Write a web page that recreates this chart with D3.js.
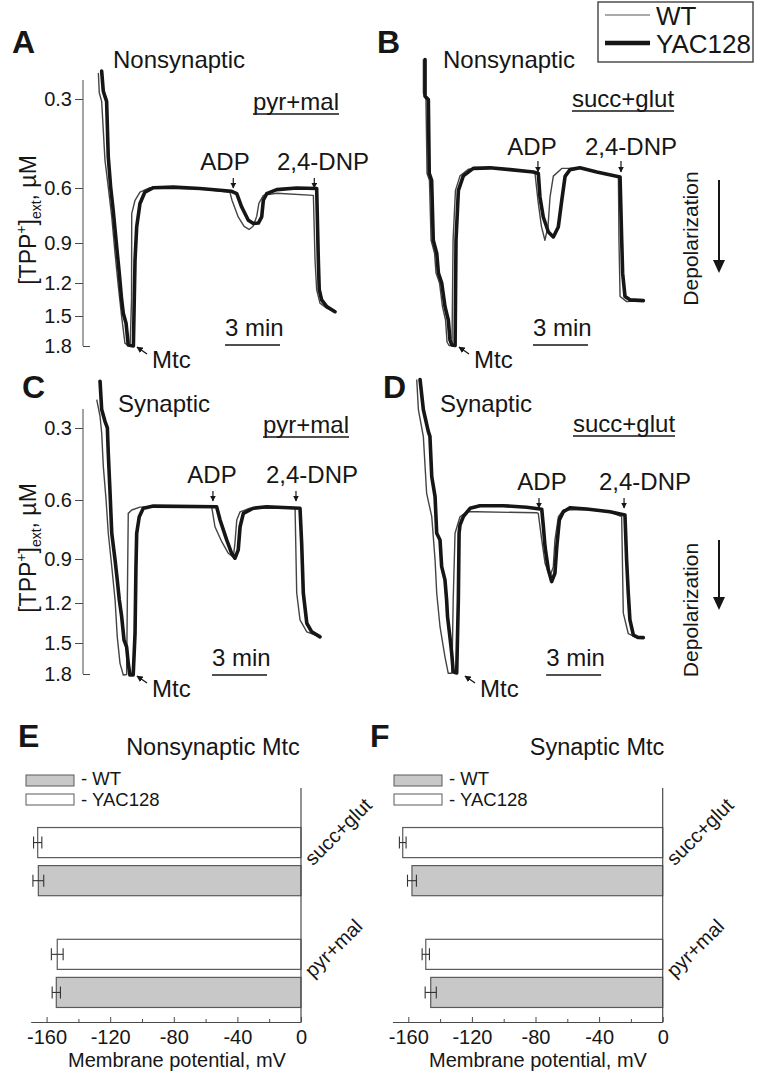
<!DOCTYPE html>
<html>
<head>
<meta charset="utf-8">
<script src="https://cdn.jsdelivr.net/npm/d3@7"></script>
<style>
  body { margin: 0; background: #fff; }
  svg { display: block; font-family: "Liberation Sans", Arial, Helvetica, sans-serif; }
</style>
</head>
<body>
<svg id="fig" width="764" height="1074"></svg>
<script>
// ---- data: TPP+ traces, [time (min), [TPP+]ext (uM)] ----
const tppTicks = [0.3, 0.6, 0.9, 1.2, 1.5, 1.8];

const traceA_yac = [[0.20,0.206],[0.29,0.274],[0.38,0.291],[0.47,0.308],[0.56,0.495],[0.69,0.597],[0.83,0.722],[1.02,0.930],[1.16,1.126],[1.29,1.353],[1.38,1.475],[1.53,1.573],[1.65,1.79],[1.93,1.80],[2.02,1.028],[2.11,0.813],[2.29,0.685],[2.56,0.622],[3.02,0.599],[4.11,0.597],[5.56,0.603],[7.29,0.618],[7.57,0.631],[7.84,0.704],[8.20,0.776],[8.48,0.794],[8.75,0.791],[8.93,0.758],[9.02,0.667],[9.20,0.631],[9.75,0.609],[10.84,0.600],[11.93,0.603],[12.02,1.028],[12.07,1.261],[12.20,1.353],[12.48,1.415],[12.93,1.461]];
const traceA_wt = [[0.02,0.212],[0.07,0.279],[0.20,0.308],[0.38,0.506],[0.56,0.597],[0.75,0.758],[0.93,0.978],[1.11,1.231],[1.29,1.507],[1.47,1.773],[1.75,1.80],[1.83,1.353],[1.84,0.740],[2.02,0.667],[2.29,0.622],[2.84,0.599],[5.56,0.604],[7.20,0.624],[7.31,0.667],[7.65,0.758],[7.97,0.809],[8.24,0.826],[8.46,0.809],[8.66,0.754],[8.78,0.683],[9.02,0.640],[9.75,0.629],[11.75,0.640],[11.84,1.028],[11.93,1.261],[12.11,1.383],[12.48,1.429],[12.93,1.461]];

const traceB_yac = [[0.22,0.167],[0.22,0.291],[0.40,0.302],[0.45,0.551],[0.58,0.574],[0.67,0.885],[0.86,0.978],[0.95,1.126],[1.13,1.20],[1.31,1.415],[1.49,1.54],[1.58,1.74],[1.68,1.79],[1.86,1.795],[1.91,0.885],[2.04,0.613],[2.31,0.559],[2.85,0.534],[3.76,0.532],[4.86,0.538],[6.13,0.546],[6.40,0.551],[6.49,0.649],[6.67,0.758],[6.95,0.840],[7.22,0.867],[7.49,0.813],[7.68,0.667],[7.86,0.561],[8.13,0.538],[8.67,0.532],[9.59,0.546],[10.86,0.563],[10.95,0.885],[11.00,1.126],[11.13,1.323],[11.40,1.353],[12.13,1.36]];
const traceB_wt = [[0.13,0.167],[0.13,0.280],[0.27,0.302],[0.33,0.551],[0.46,0.574],[0.55,0.885],[0.74,0.978],[0.82,1.126],[1.01,1.20],[1.17,1.415],[1.34,1.54],[1.42,1.76],[1.53,1.795],[1.69,1.795],[1.75,0.885],[1.88,0.613],[2.13,0.559],[2.58,0.537],[3.76,0.532],[6.11,0.546],[6.22,0.551],[6.38,0.667],[6.57,0.809],[6.76,0.885],[6.93,0.809],[7.04,0.649],[7.22,0.560],[7.68,0.534],[8.67,0.534],[9.59,0.546],[10.77,0.563],[10.80,0.885],[10.86,1.323],[11.22,1.369],[12.13,1.36]];

const traceC_yac = [[0.22,0.105],[0.31,0.223],[0.49,0.272],[0.62,0.299],[0.67,0.405],[0.76,0.558],[0.86,0.769],[1.04,0.907],[1.16,1.042],[1.27,1.178],[1.40,1.302],[1.53,1.479],[1.67,1.538],[1.76,1.697],[1.85,1.81],[2.03,1.81],[2.13,1.428],[2.18,0.952],[2.22,0.769],[2.36,0.685],[2.58,0.642],[3.13,0.631],[6.58,0.634],[6.77,0.702],[7.13,0.803],[7.40,0.871],[7.58,0.896],[7.76,0.854],[7.86,0.736],[8.04,0.668],[8.58,0.642],[9.31,0.634],[11.13,0.642],[11.22,0.820],[11.31,1.132],[11.50,1.352],[11.77,1.416],[12.22,1.454]];
const traceC_wt = [[0.04,0.182],[0.22,0.251],[0.31,0.321],[0.40,0.461],[0.55,0.60],[0.67,0.769],[0.86,0.952],[1.04,1.178],[1.16,1.454],[1.31,1.697],[1.49,1.81],[1.67,1.805],[1.71,1.178],[1.76,0.668],[1.95,0.651],[2.40,0.636],[6.31,0.634],[6.49,0.736],[6.86,0.812],[7.22,0.871],[7.49,0.891],[7.58,0.820],[7.68,0.702],[7.86,0.660],[8.40,0.642],[10.86,0.642],[10.95,1.132],[11.13,1.327],[11.50,1.416],[12.22,1.454]];

const traceD_yac = [[0.22,0.098],[0.40,0.223],[0.67,0.314],[0.76,0.335],[0.86,0.503],[1.04,0.586],[1.13,0.769],[1.31,0.803],[1.40,0.952],[1.58,1.042],[1.67,1.178],[1.72,1.302],[1.85,1.454],[1.95,1.602],[2.03,1.778],[2.22,1.79],[2.31,1.178],[2.35,0.769],[2.40,0.727],[2.58,0.685],[2.95,0.642],[3.49,0.629],[4.76,0.629],[6.04,0.637],[6.86,0.647],[6.95,0.736],[7.04,0.838],[7.22,0.974],[7.40,1.054],[7.58,0.997],[7.68,0.838],[7.82,0.702],[8.04,0.660],[8.40,0.639],[9.31,0.646],[10.58,0.660],[11.40,0.676],[11.49,0.907],[11.58,1.132],[11.67,1.327],[11.86,1.441],[12.13,1.459],[12.40,1.46]];
const traceD_wt = [[0.04,0.098],[0.13,0.223],[0.40,0.335],[0.58,0.572],[0.86,0.685],[1.04,0.907],[1.13,1.132],[1.31,1.378],[1.58,1.634],[1.76,1.793],[1.96,1.793],[2.03,1.178],[2.13,0.769],[2.40,0.685],[2.77,0.660],[3.31,0.660],[6.58,0.665],[6.67,0.668],[6.86,0.803],[7.04,0.929],[7.31,1.020],[7.49,0.952],[7.58,0.803],[7.77,0.685],[8.04,0.651],[9.31,0.649],[10.58,0.661],[11.22,0.685],[11.31,1.276],[11.58,1.429],[12.04,1.459],[12.40,1.46]];

// additions (min) and 3-min scale bar start, panels A-D
const adpTimes = [7.38, 6.38, 6.38, 6.71];
const dnpTimes = [11.80, 10.91, 10.91, 11.35];
const scaleBarStart = [6.93, 6.11, 6.33, 7.10];
const scaleBarMin = 3;

// ---- data: membrane potential (mV), mean and error ----
const substrates = ["succ+glut", "pyr+mal"];
const strains = ["YAC128", "WT"];
const nonsynWT = [-165.2, -153.9];
const nonsynWTerr = [3.4, 2.6];
const nonsynYAC = [-165.6, -153.3];
const nonsynYACerr = [2.6, 3.7];
const synWT = [-157.7, -145.9];
const synWTerr = [2.8, 3.5];
const synYAC = [-163.5, -149.0];
const synYACerr = [2.1, 2.3];
const mvTicks = d3.range(-160, 1, 20);

// ---- drawing ----
const svg = d3.select("#fig");
const ink = "#161616";
const axisCol = "#4a4a4a";
const pxPerMin = 18.33;

svg.append("defs").append("marker")
  .attr("id", "ah").attr("viewBox", "0 0 10 10")
  .attr("refX", 9).attr("refY", 5)
  .attr("markerWidth", 5).attr("markerHeight", 5)
  .attr("orient", "auto")
  .append("path").attr("d", "M0,0L10,5L0,10z").attr("fill", ink);

function txt(g, x, y, s, size, anchor = "start") {
  return g.append("text").attr("x", x).attr("y", y)
    .attr("font-size", size).attr("text-anchor", anchor)
    .attr("fill", ink).text(s);
}

// TPP+ scale is calibrated per row (electrode response), piecewise over the ticks
const rowY = [
  d3.scaleLinear().domain(tppTicks).range([99, 188, 243, 283, 316, 346]),
  d3.scaleLinear().domain(tppTicks).range([428, 500, 559, 603, 643, 674])
];

const panels = [
  { letter: "A", lx: 12, ly: 53, x0: 98, row: 0, wt: traceA_wt, yac: traceA_yac,
    title: "Nonsynaptic", tx: 113, ty: 68, sub: "pyr+mal", sx: 253, sy: 110,
    adpX: 225, dnpX: 323, labY: 170, arrY: [178, 188], barY: 345, mtc: [152, 368] },
  { letter: "B", lx: 377, ly: 53, x0: 421, row: 0, wt: traceB_wt, yac: traceB_yac,
    title: "Nonsynaptic", tx: 443, ty: 68, sub: "succ+glut", sx: 572, sy: 107,
    adpX: 532, dnpX: 631, labY: 155, arrY: [161, 172], barY: 345, mtc: [474, 368] },
  { letter: "C", lx: 22, ly: 398, x0: 96, row: 1, wt: traceC_wt, yac: traceC_yac,
    title: "Synaptic", tx: 118, ty: 412, sub: "pyr+mal", sx: 263, sy: 433,
    adpX: 212, dnpX: 312, labY: 483, arrY: [491, 501], barY: 675, mtc: [152, 697] },
  { letter: "D", lx: 383, ly: 398, x0: 416, row: 1, wt: traceD_wt, yac: traceD_yac,
    title: "Synaptic", tx: 440, ty: 412, sub: "succ+glut", sx: 573, sy: 432,
    adpX: 542, dnpX: 645, labY: 490, arrY: [498, 508], barY: 675, mtc: [480, 697] }
];

// y axes for A and C
[0, 1].forEach(r => {
  const y = rowY[r];
  const g = svg.append("g").attr("transform", "translate(83,0)")
    .attr("color", axisCol);
  g.call(d3.axisLeft(y).tickValues(tppTicks).tickSize(8).tickPadding(3)
    .tickSizeOuter(0).tickFormat(d3.format(".1f")));
  g.attr("font-size", 20).attr("font-family", null);
  g.select(".domain").remove();
  g.append("line").attr("y1", y(tppTicks[0]) - 19).attr("y2", y(1.8))
    .attr("stroke", axisCol);
  g.selectAll(".tick").filter(d => d === 1.8).select("line").attr("x2", 7);
  g.selectAll(".tick text").attr("fill", ink);

  const cy = r === 0 ? 220 : 548;
  const t = svg.append("text")
    .attr("transform", `translate(36,${cy}) rotate(-90)`)
    .attr("text-anchor", "middle").attr("font-size", 23).attr("fill", ink);
  t.append("tspan").text("[TPP");
  t.append("tspan").attr("font-size", 14).attr("dy", -10).text("+");
  t.append("tspan").attr("dy", 10).text("]");
  t.append("tspan").attr("font-size", 14).attr("dy", 5).text("ext");
  t.append("tspan").attr("dy", -5).text(", \u00B5M");

  // depolarization arrow on the right
  const dy = r === 0 ? [180, 273] : [540, 610];
  svg.append("text")
    .attr("transform", `translate(698,${(dy[0] + dy[1]) / 2 + (r === 0 ? 12 : 35)}) rotate(-90)`)
    .attr("text-anchor", "middle").attr("font-size", 21).attr("fill", ink)
    .text("Depolarization");
  svg.append("line").attr("x1", 719).attr("x2", 719)
    .attr("y1", dy[0]).attr("y2", dy[1] - 10)
    .attr("stroke", ink).attr("stroke-width", 2);
  svg.append("path")
    .attr("d", `M713,${dy[1] - 13}L725,${dy[1] - 13}L719,${dy[1]}Z`)
    .attr("fill", ink);
});

panels.forEach((p, i) => {
  const x = d3.scaleLinear().domain([0, 13]).range([p.x0, p.x0 + 13 * pxPerMin]);
  const y = rowY[p.row];
  const line = d3.line().x(d => x(d[0])).y(d => y(d[1]));
  const g = svg.append("g");

  g.append("path").datum(p.wt).attr("d", line)
    .attr("fill", "none").attr("stroke", "#444").attr("stroke-width", 1.4)
    .attr("stroke-linejoin", "round");
  g.append("path").datum(p.yac).attr("d", line)
    .attr("fill", "none").attr("stroke", ink).attr("stroke-width", 3.6)
    .attr("stroke-linejoin", "round").attr("stroke-linecap", "round");

  txt(g, p.lx, p.ly, p.letter, 32).attr("font-weight", "bold");
  txt(g, p.tx, p.ty, p.title, 24);
  const sub = txt(g, p.sx, p.sy, p.sub, 24);
  const w = sub.node().getComputedTextLength();
  g.append("line").attr("x1", p.sx).attr("x2", p.sx + w)
    .attr("y1", p.sy + 4).attr("y2", p.sy + 4)
    .attr("stroke", ink).attr("stroke-width", 1.4);

  // additions
  txt(g, p.adpX, p.labY, "ADP", 24, "middle");
  txt(g, p.dnpX, p.labY, "2,4-DNP", 24, "middle");
  [adpTimes[i], dnpTimes[i]].forEach(t => {
    g.append("line").attr("x1", x(t)).attr("x2", x(t))
      .attr("y1", p.arrY[0]).attr("y2", p.arrY[1])
      .attr("stroke", ink).attr("stroke-width", 1.2)
      .attr("marker-end", "url(#ah)");
  });

  // scale bar
  const b0 = x(scaleBarStart[i]), b1 = x(scaleBarStart[i] + scaleBarMin);
  g.append("line").attr("x1", b0).attr("x2", b1)
    .attr("y1", p.barY).attr("y2", p.barY)
    .attr("stroke", ink).attr("stroke-width", 1.6);
  txt(g, b0, p.barY - 9, "3 min", 24);

  // Mtc label
  txt(g, p.mtc[0], p.mtc[1], "Mtc", 24);
  g.append("line")
    .attr("x1", p.mtc[0] - 5).attr("y1", p.mtc[1] - 14)
    .attr("x2", p.mtc[0] - 15).attr("y2", p.mtc[1] - 21)
    .attr("stroke", ink).attr("stroke-width", 1.3)
    .attr("marker-end", "url(#ah)");
});

// legend, top right
{
  const g = svg.append("g");
  g.append("rect").attr("x", 598).attr("y", 2).attr("width", 155).attr("height", 60)
    .attr("fill", "#fff").attr("stroke", "#333").attr("stroke-width", 1.3);
  g.append("line").attr("x1", 605).attr("x2", 650).attr("y1", 15).attr("y2", 15)
    .attr("stroke", "#555").attr("stroke-width", 1.2);
  g.append("line").attr("x1", 605).attr("x2", 650).attr("y1", 43).attr("y2", 43)
    .attr("stroke", ink).attr("stroke-width", 4.5);
  txt(g, 656, 25, "WT", 26);
  txt(g, 656, 53, "YAC128", 26);
}

// ---- bar charts E and F ----
function drawBars(cfg) {
  const g = svg.append("g");
  const xs = d3.scaleLinear().domain([-170, 0]).range([cfg.zero - 170 * 1.59, cfg.zero]);
  const band = d3.scaleBand().domain(substrates).range([813, 1022])
    .paddingInner(0.39).paddingOuter(0.13);
  const inner = d3.scaleBand().domain(strains).range([0, band.bandwidth()])
    .paddingInner(0.21);
  const rows = substrates.flatMap((c, i) => [
    { c, s: "YAC128", v: cfg.yac[i], e: cfg.yacErr[i] },
    { c, s: "WT", v: cfg.wt[i], e: cfg.wtErr[i] }
  ]);
  const cy = d => band(d.c) + inner(d.s) + inner.bandwidth() / 2;

  g.selectAll("rect.bar").data(rows).join("rect").attr("class", "bar")
    .attr("x", d => xs(d.v)).attr("y", d => band(d.c) + inner(d.s))
    .attr("width", d => xs(0) - xs(d.v)).attr("height", inner.bandwidth())
    .attr("fill", d => d.s === "WT" ? "#c8c8c8" : "#fff")
    .attr("stroke", "#5a5a5a").attr("stroke-width", 1.2);

  const eb = g.selectAll("g.err").data(rows).join("g").attr("class", "err")
    .attr("stroke", "#333").attr("stroke-width", 1.1);
  eb.append("line").attr("x1", d => xs(d.v - d.e)).attr("x2", d => xs(d.v + d.e))
    .attr("y1", cy).attr("y2", cy);
  eb.append("line").attr("x1", d => xs(d.v - d.e)).attr("x2", d => xs(d.v - d.e))
    .attr("y1", d => cy(d) - 6).attr("y2", d => cy(d) + 6);
  eb.append("line").attr("x1", d => xs(d.v + d.e)).attr("x2", d => xs(d.v + d.e))
    .attr("y1", d => cy(d) - 6).attr("y2", d => cy(d) + 6);

  // axes
  g.append("line").attr("x1", xs(0)).attr("x2", xs(0)).attr("y1", 788).attr("y2", 1022)
    .attr("stroke", axisCol).attr("stroke-width", 1.2);
  const ax = g.append("g").attr("transform", "translate(0,1022)").attr("color", axisCol)
    .call(d3.axisBottom(xs).tickValues(mvTicks).tickSize(-5).tickPadding(8)
      .tickSizeOuter(0).tickFormat(d => d % 40 === 0 ? String(d) : ""));
  ax.attr("font-size", 20).attr("font-family", null);
  ax.selectAll(".tick text").attr("fill", ink);
  ax.selectAll(".tick").filter(d => d % 40 !== 0).select("line").attr("y2", -3);
  txt(g, cfg.axisTitleX, 1067, "Membrane potential, mV", 20, "middle");

  // category labels
  substrates.forEach(c => {
    g.append("text")
      .attr("transform", `translate(${xs(0) + 12},${band(c) + band.bandwidth() / 2 + 5}) rotate(-45)`)
      .attr("font-size", 20).attr("fill", ink).text(c);
  });

  // title, letter, legend
  txt(g, cfg.letterX, 747, cfg.letter, 32).attr("font-weight", "bold");
  txt(g, cfg.titleX, 755, cfg.title, 23.5, "middle");
  g.append("rect").attr("x", cfg.legendX).attr("y", 775).attr("width", 48).attr("height", 11)
    .attr("fill", "#c8c8c8").attr("stroke", "#5a5a5a");
  g.append("rect").attr("x", cfg.legendX).attr("y", 794).attr("width", 48).attr("height", 11)
    .attr("fill", "#fff").attr("stroke", "#5a5a5a");
  txt(g, cfg.legendX + 55, 785, "- WT", 18.5);
  txt(g, cfg.legendX + 55, 806, "- YAC128", 18.5);
}

drawBars({ letter: "E", letterX: 18, zero: 301, title: "Nonsynaptic Mtc", titleX: 213,
  legendX: 26, axisTitleX: 177, wt: nonsynWT, wtErr: nonsynWTerr, yac: nonsynYAC, yacErr: nonsynYACerr });
drawBars({ letter: "F", letterX: 370, zero: 662.7, title: "Synaptic Mtc", titleX: 597,
  legendX: 394, axisTitleX: 538, wt: synWT, wtErr: synWTerr, yac: synYAC, yacErr: synYACerr });
</script>
</body>
</html>
